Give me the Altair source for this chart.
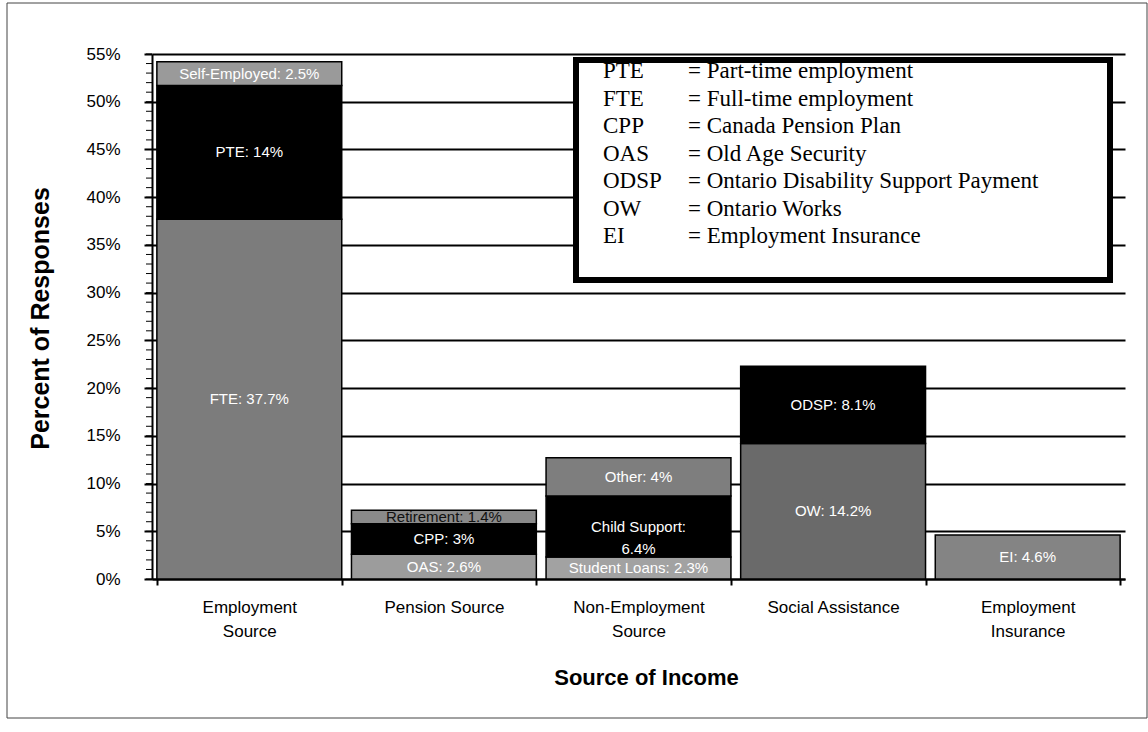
import altair as alt
import pandas as pd

categories = ["Employment Source", "Pension Source", "Non-Employment Source",
              "Social Assistance", "Employment Insurance"]

seg_category = ["Employment Source", "Employment Source", "Employment Source",
                "Pension Source", "Pension Source", "Pension Source",
                "Non-Employment Source", "Non-Employment Source", "Non-Employment Source",
                "Social Assistance", "Social Assistance",
                "Employment Insurance"]
seg_name = ["FTE", "PTE", "Self-Employed",
            "OAS", "CPP", "Retirement",
            "Student Loans", "Child Support", "Other",
            "OW", "ODSP",
            "EI"]
seg_value = [37.7, 14.0, 2.5,
             2.6, 3.2, 1.4,
             2.3, 6.4, 4.0,
             14.2, 8.1,
             4.6]
seg_label = ["FTE: 37.7%", "PTE: 14%", "Self-Employed: 2.5%",
             "OAS: 2.6%", "CPP: 3%", "Retirement: 1.4%",
             "Student Loans: 2.3%", "Child Support:\n6.4%", "Other: 4%",
             "OW: 14.2%", "ODSP: 8.1%",
             "EI: 4.6%"]
seg_fill = ["#7c7c7c", "#000000", "#9a9a9a",
            "#9c9c9c", "#000000", "#8a8a8a",
            "#a2a2a2", "#000000", "#7e7e7e",
            "#6a6a6a", "#000000",
            "#848484"]
seg_text_color = ["#ffffff", "#ffffff", "#ffffff",
                  "#ffffff", "#ffffff", "#111111",
                  "#ffffff", "#ffffff", "#ffffff",
                  "#ffffff", "#ffffff",
                  "#ffffff"]

y_major = list(range(0, 56, 5))
y_minor = list(range(0, 56, 1))

legend_abbr = ["PTE", "FTE", "CPP", "OAS", "ODSP", "OW", "EI"]
legend_def = ["= Part-time employment", "= Full-time employment", "= Canada Pension Plan",
              "= Old Age Security", "= Ontario Disability Support Payment",
              "= Ontario Works", "= Employment Insurance"]

df = pd.DataFrame({
    "category": seg_category,
    "segment": seg_name,
    "value": seg_value,
    "label": seg_label,
    "fill": seg_fill,
    "tcolor": seg_text_color,
})
df["y1"] = df.groupby("category")["value"].cumsum()
df["y0"] = df["y1"] - df["value"]
df["mid"] = (df["y0"] + df["y1"]) / 2

W, H = 973, 525
SANS = "Liberation Sans"

yscale = alt.Scale(domain=[0, 55], nice=False, zero=True)

x_axis = alt.Axis(
    title="Source of Income",
    titleFont=SANS, titleFontSize=22, titleFontWeight="bold", titleColor="black",
    titleX=494, titleY=98, titleBaseline="middle", titleAlign="center",
    labelFont=SANS, labelFontSize=17, labelColor="black", labelAngle=0,
    labelPadding=14, labelLineHeight=24, labelBaseline="top",
    labelExpr="indexof(['Pension Source','Social Assistance'], datum.label) >= 0 ? datum.label : split(datum.label, ' ')",
    tickBand="extent", tickColor="black", tickSize=6, tickWidth=2,
    domainColor="black", domainWidth=2, grid=False,
)
y_axis = alt.Axis(
    title="Percent of Responses",
    titleFont=SANS, titleFontSize=25, titleFontWeight="bold", titleColor="black",
    titleX=-112, titleY=264, titleAngle=-90, titleBaseline="middle", titleAlign="center",
    values=y_major, labelExpr="datum.value + '%'",
    labelFont=SANS, labelFontSize=17, labelColor="black", labelPadding=24,
    tickColor="black", tickSize=8, tickWidth=2,
    domainColor="black", domainWidth=2,
    grid=True, gridColor="black", gridWidth=2,
)

x_enc = alt.X("category:N", sort=categories,
              scale=alt.Scale(paddingInner=0.05, paddingOuter=0.025), axis=x_axis)

bars = alt.Chart(df).mark_bar(stroke="black", strokeWidth=1.5).encode(
    x=x_enc,
    y=alt.Y("y0:Q", scale=yscale, axis=y_axis),
    y2="y1:Q",
    fill=alt.Fill("fill:N", scale=None),
)

labels = alt.Chart(df).mark_text(font=SANS, fontSize=15, lineBreak="\n",
                                 lineHeight=22).encode(
    x=alt.X("category:N", sort=categories),
    y=alt.Y("mid:Q"),
    text="label:N",
    color=alt.Color("tcolor:N", scale=None),
)

minor = alt.Chart(pd.DataFrame({"t": y_minor})).mark_rule(color="black", strokeWidth=1).encode(
    y=alt.Y("t:Q"),
    x=alt.value(-6),
    x2=alt.value(0),
)

one = pd.DataFrame({"k": [0]})

legend_box = alt.Chart(one).mark_rect(fill="white", stroke="black", strokeWidth=6).encode(
    x=alt.value(424), x2=alt.value(958), y=alt.value(6), y2=alt.value(226),
)
legend_left = alt.Chart(one).mark_text(
    text=legend_abbr, font="Liberation Serif", fontSize=23, align="left",
    baseline="middle", lineHeight=27.5, color="black",
).encode(x=alt.value(451), y=alt.value(17))
legend_right = alt.Chart(one).mark_text(
    text=legend_def, font="Liberation Serif", fontSize=23, align="left",
    baseline="middle", lineHeight=27.5, color="black",
).encode(x=alt.value(536), y=alt.value(17))

frame = alt.Chart(one).mark_rect(fill=None, stroke="#444444", strokeWidth=1).encode(
    x=alt.value(-145), x2=alt.value(995), y=alt.value(-51), y2=alt.value(664),
)

chart = alt.layer(frame, minor, bars, labels, legend_box, legend_left, legend_right).properties(
    width=W, height=H,
    padding={"left": 152, "top": 54, "right": 23, "bottom": 153},
    autosize="none",
    background="white",
).configure_view(stroke=None)

chart.save("out.html", embed_options={"renderer": "svg", "actions": False})
